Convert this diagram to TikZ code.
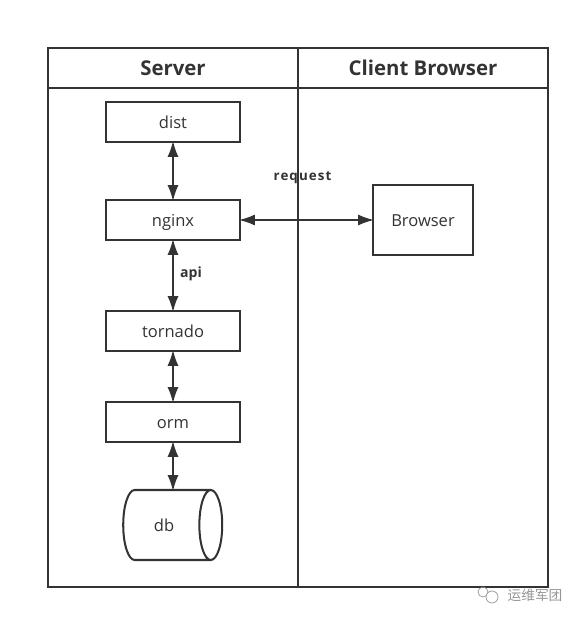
\documentclass[tikz,border=0pt]{standalone}
\usepackage{fontspec}
\setmainfont{Open Sans}
\newfontfamily\spacedfont[LetterSpace=8]{Open Sans}
\newfontfamily\cjkfont{Noto Sans CJK SC}
\usepackage{xcolor}
\usetikzlibrary{calc,positioning,arrows.meta,shapes.geometric}
\definecolor{lineBox}{RGB}{51,51,51}
\definecolor{markGris}{RGB}{150,150,150}
\tikzset{
  compBox/.style={draw=lineBox, line width=1.15pt, minimum width=2.68cm, minimum height=0.8cm,
    text=lineBox, inner sep=0pt, outer sep=0pt, text height=0.95em, text depth=0.2em,
    font=\fontsize{9.4}{11}\selectfont},
  headLabel/.style={text=lineBox, font=\fontsize{11.6}{14}\selectfont\bfseries},
  edgeLabel/.style={text=lineBox, font=\fontsize{8}{10}\selectfont\bfseries},
  link/.style={<->, >={Latex[length=0.32cm,width=0.22cm]}, draw=lineBox, line width=1.15pt,
    shorten <=-0.7pt, shorten >=-0.7pt},
}
\begin{document}
\begin{tikzpicture}
  \useasboundingbox (0,0) rectangle (11.6,12.4);
  % Frame with the two lanes
  \draw[lineBox, line width=1.15pt] (0.96,0.66) rectangle (10.96,11.44);
  \draw[lineBox, line width=1.15pt] (0.96,10.64) -- (10.96,10.64);
  \draw[lineBox, line width=1.15pt] (5.96,0.66) -- (5.96,11.44);
  \node[headLabel] (serverHead) at (3.46,11.04) {Server};
  \node[headLabel] (clientHead) at (8.46,11.04) {Client Browser};
  % Server lane
  \node[compBox] (dist) at (3.46,9.96) {dist};
  \node[compBox] (nginx) at (3.46,8.0) {nginx};
  \node[compBox] (tornado) at (3.46,5.78) {tornado};
  \node[compBox] (orm) at (3.46,3.96) {orm};
  \node[draw=lineBox, line width=1.15pt, cylinder, shape aspect=1.8, minimum width=1.4cm,
    minimum height=1.98cm, inner sep=0pt, outer sep=0pt, text=lineBox, font=\fontsize{9.4}{11}\selectfont]
    (db) at (3.33,1.9) {\hspace*{-0.1cm}db};
  % Client lane
  \node[compBox, minimum width=2cm, minimum height=1.4cm] (browser) at (8.46,8.0) {Browser};
  % Arrows
  \draw[link] (dist) -- (nginx);
  \draw[link] (nginx) -- (tornado);
  \draw[link] (tornado) -- (orm);
  \draw[link] (orm) -- (orm |- db.north);
  \draw[link] (nginx) -- (browser);
  \node[edgeLabel] (apiLabel) at (3.82,6.92) {api};
  \node[edgeLabel, font=\fontsize{7.6}{10}\selectfont\spacedfont\bfseries] (requestLabel) at (6.05,8.84) {request};
  % Watermark
  \draw[markGris, line width=0.4pt] (9.66,0.56) circle (0.1);
  \draw[markGris, line width=0.4pt, fill=white] (9.84,0.46) circle (0.12);
  \node[text=markGris, fill=white, inner sep=0pt, font=\fontsize{7.8}{10}\cjkfont] (markText) at (10.7,0.5) {运维军团};
\end{tikzpicture}
\end{document}
